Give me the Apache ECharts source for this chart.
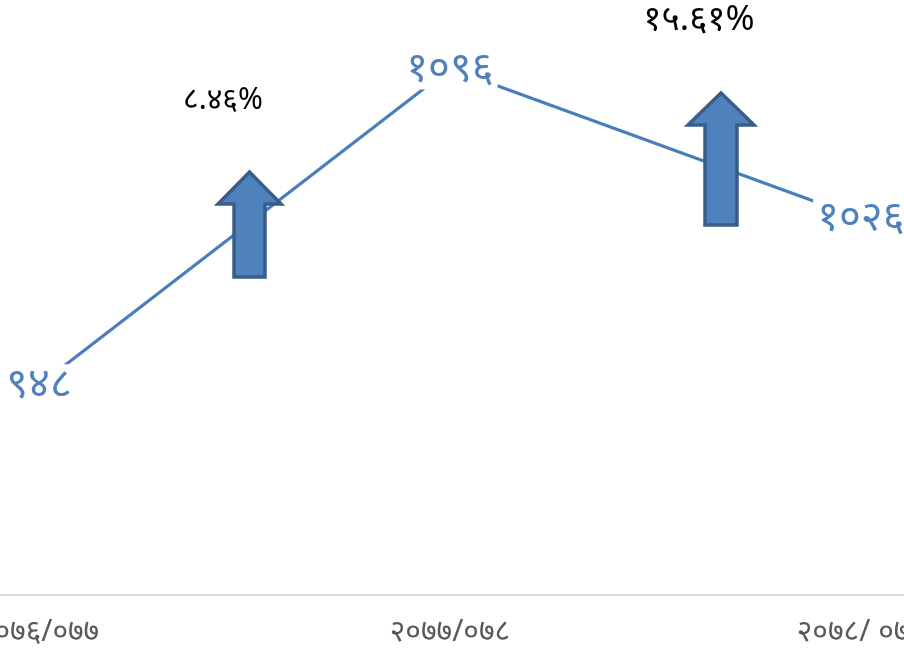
<!DOCTYPE html>
<html>
<head>
<meta charset="utf-8">
<script src="https://cdn.jsdelivr.net/npm/echarts@6/dist/echarts.min.js"></script>
<style>
html,body{margin:0;padding:0;background:#fff;}
#c{width:904px;height:649px;}
</style>
</head>
<body>
<div id="c"></div>
<script>
var categories = ['२०७६/०७७', '२०७७/०७८', '२०७८/ ०७९'];
var values = [948, 1096, 1026];
var changeLabels = ['८.४६%', '१५.६१%'];

var devDigits = ['०','१','२','३','४','५','६','७','८','९'];
function toDev(n){ return String(n).replace(/[0-9]/g, function(d){ return devDigits[+d]; }); }

var seriesData = values.map(function(v, i){ return [i, v]; });
var catIdx = categories.map(function(c, i){ return i; });

var chart = echarts.init(document.getElementById('c'));
var FONT = '"Noto Sans", "DejaVu Sans", sans-serif';
var option = {
  animation: false,
  backgroundColor: '#ffffff',
  grid: { left: 0, right: 0, top: 60, bottom: 54, containLabel: false, outerBoundsMode: 'none' },
  xAxis: {
    type: 'value',
    min: -0.095, max: 2.105,
    splitLine: { show: false },
    axisLine: { show: true, onZero: false, lineStyle: { color: '#D9D9D9', width: 2 } },
    axisTick: { show: false },
    axisLabel: {
      customValues: catIdx,
      formatter: function(v){ return categories[Math.round(v)]; },
      color: '#595959', fontSize: 30, fontFamily: FONT, margin: 22
    }
  },
  yAxis: {
    type: 'value', min: 850, max: 1100,
    show: false, splitLine: { show: false }
  },
  series: [{
    type: 'line',
    data: seriesData,
    symbol: 'circle', symbolSize: 1, showSymbol: true,
    itemStyle: { opacity: 0 },
    lineStyle: { color: '#4A7EBB', width: 3.2 },
    label: {
      show: true, position: 'inside',
      formatter: function(p){ return toDev(p.value[1]); },
      color: '#4F81BD', fontSize: 42, fontFamily: FONT,
      backgroundColor: '#ffffff', padding: [0, 4], opacity: 1
    },
    labelLayout: { hideOverlap: false },
    z: 3
  }],
  graphic: [
    { type: 'polygon', z: 10,
      shape: { points: [[249.5,172],[281,204],[265,204],[265,277],[234,277],[234,204],[218,204]] },
      style: { fill: '#4F81BD', stroke: '#385D8A', lineWidth: 3.5 } },
    { type: 'polygon', z: 10,
      shape: { points: [[721,93],[754,125],[737,125],[737,225],[705,225],[705,125],[688,125]] },
      style: { fill: '#4F81BD', stroke: '#385D8A', lineWidth: 3.5 } },
    { type: 'text', z: 10, x: 223, y: 100,
      style: { text: changeLabels[0], fill: '#000', fontSize: 30, fontFamily: FONT, align: 'center', verticalAlign: 'middle' } },
    { type: 'text', z: 10, x: 699, y: 20,
      style: { text: changeLabels[1], fill: '#000', fontSize: 35, fontFamily: FONT, align: 'center', verticalAlign: 'middle' } }
  ]
};
chart.setOption(option);
</script>
</body>
</html>
